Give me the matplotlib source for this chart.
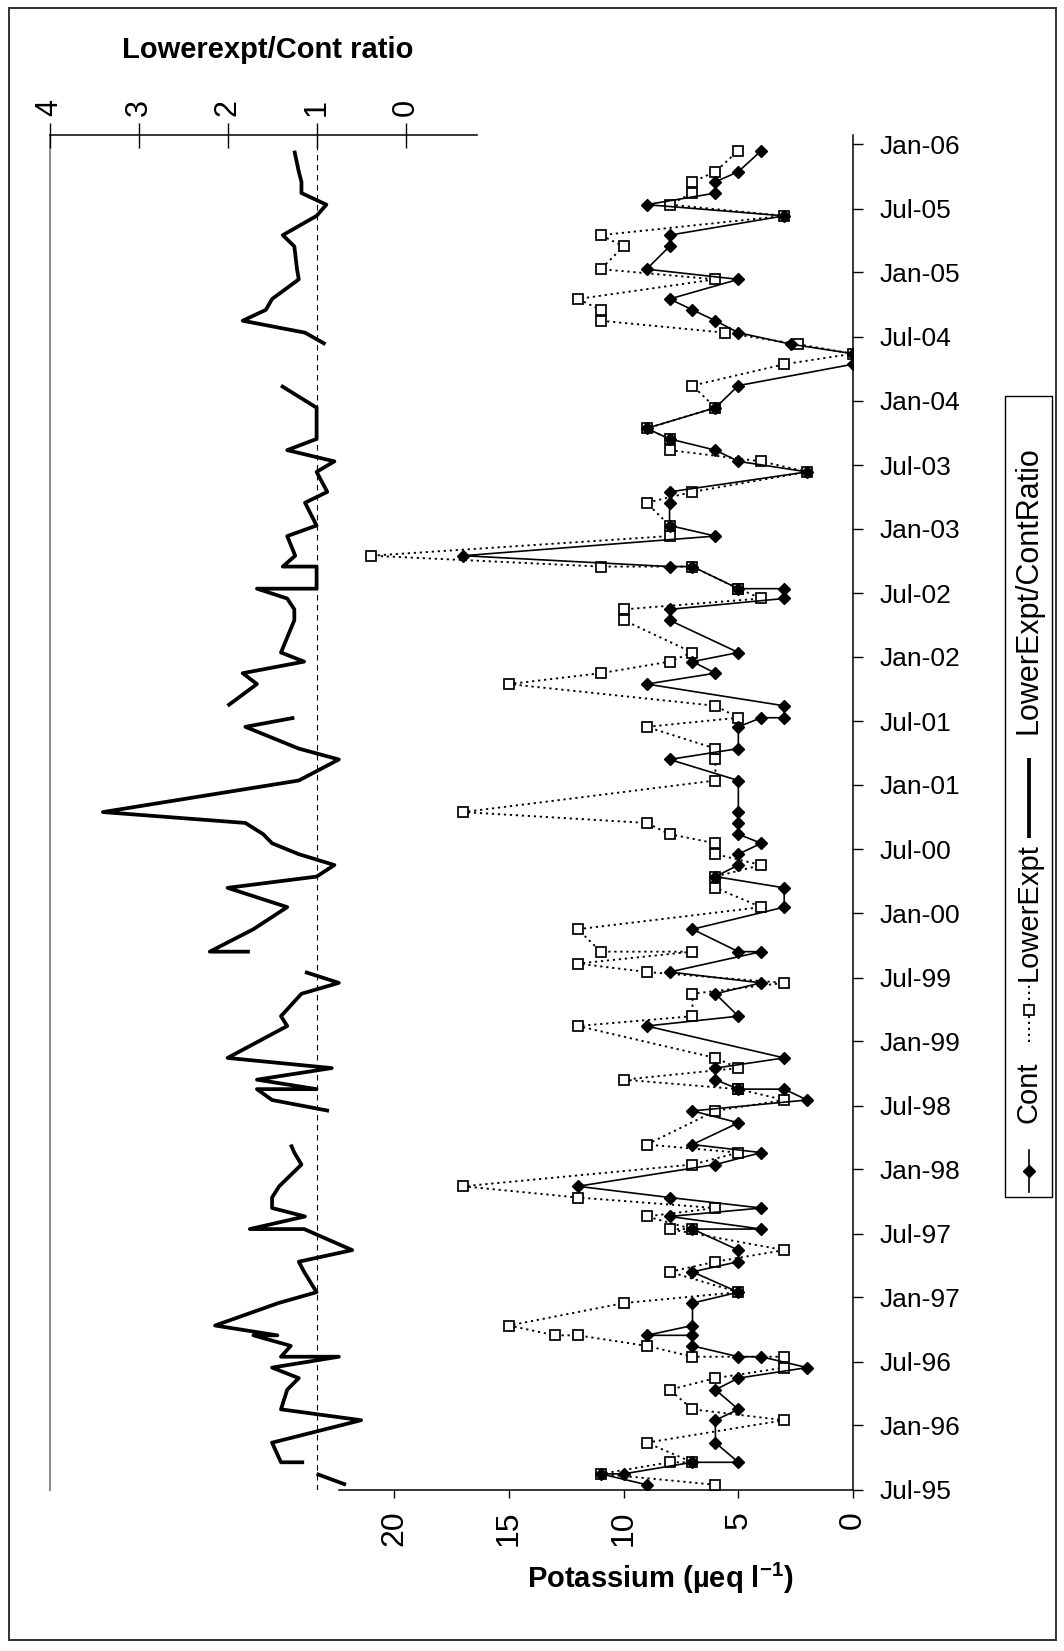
import matplotlib
matplotlib.use("Agg")
import matplotlib.pyplot as plt
from matplotlib.lines import Line2D
from matplotlib.patches import Rectangle
import numpy as np
from datetime import datetime

# ---------------- data ----------------
sample_dates = [
    "1995-07-16", "1995-08-16", "1995-08-16", "1995-09-18", "1995-09-18", "1995-11-13",
    "1996-01-16", "1996-02-16", "1996-04-12", "1996-05-15", "1996-06-14", "1996-07-15",
    "1996-07-15", "1996-08-15", "1996-09-14", "1996-09-14", "1996-10-12", "1996-12-15",
    "1997-01-15", "1997-03-14", "1997-04-12", "1997-05-15", "1997-07-14", "1997-07-14",
    "1997-08-19", "1997-09-12", "1997-10-12", "1997-11-13", "1998-01-14", "1998-02-17",
    "1998-03-12", "1998-05-13", "1998-06-16", "1998-07-17", "1998-08-17", "1998-08-17",
    "1998-09-13", "1998-10-16", "1998-11-14", "1999-02-13", "1999-03-13", "1999-05-16",
    "1999-06-16", "1999-07-17", "1999-08-10", "1999-09-13", "1999-09-13", "1999-11-16",
    "2000-01-18", "2000-03-13", "2000-04-14", "2000-05-17", "2000-06-17", "2000-07-18",
    "2000-08-13", "2000-09-14", "2000-10-15", "2001-01-13", "2001-03-14", "2001-04-14",
    "2001-06-15", "2001-07-11", "2001-07-11", "2001-08-14", "2001-10-15", "2001-11-15",
    "2001-12-18", "2002-01-13", "2002-04-15", "2002-05-16", "2002-06-16", "2002-07-14",
    "2002-07-14", "2002-09-15", "2002-09-15", "2002-10-16", "2002-12-11", "2003-01-10",
    "2003-03-16", "2003-04-16", "2003-06-12", "2003-07-12", "2003-08-13", "2003-09-14",
    "2003-10-14", "2003-12-12", "2004-02-13", "2004-04-14", "2004-05-14", "2004-06-10",
    "2004-07-13", "2004-08-16", "2004-09-16", "2004-10-17", "2004-12-12", "2005-01-10",
    "2005-03-16", "2005-04-17", "2005-06-11", "2005-07-13", "2005-08-15", "2005-09-16",
    "2005-10-15", "2005-12-14",
]

cont = [
    9, 11, 10, 7, 5, 6,
    6, 5, 6, 5, 2, 4,
    5, 7, 7, 9, 7, 7,
    5, 7, 5, 5, 7, 4,
    8, 4, 8, 12, 6, 4,
    7, 5, 7, 2, 3, 5,
    6, 6, 3, 9, 5, 6,
    4, 8, None, 4, 5, 7,
    3, 3, 6, 5, 5, 4,
    5, 5, 5, 5, 8, 5,
    5, 4, 3, 3, 9, 6,
    7, 5, 8, 8, 3, 3,
    5, 7, 8, 17, 6, 8,
    8, 8, 2, 5, 6, 8,
    9, 6, 5, 0, 0, 2.7,
    5, 6, 7, 8, 5, 9,
    8, 8, 3, 9, 6, 6,
    5, 4,
]

lower = [
    6, 11, None, 8, 7, 9,
    3, 7, 8, 6, 3, 3,
    7, 9, 12, 13, 15, 10,
    5, 8, 6, 3, 8, 7,
    9, 6, 12, 17, 7, 5,
    9, None, 6, 3, 5, 5,
    10, 5, 6, 12, 7, 7,
    3, 9, 12, 7, 11, 12,
    4, 6, 6, 4, 6, 6,
    8, 9, 17, 6, 6, 6,
    9, 5, None, 6, 15, 11,
    8, 7, 10, 10, 4, 5,
    5, 7, 11, 21, 8, 8,
    9, 7, 2, 4, 8, 8,
    9, 6, 7, 3, 0, 2.4,
    5.6, 11, 11, 12, 6, 11,
    10, 11, 3, 8, 7, 7,
    6, 5,
]

ratio = [
    0.67, 1.0, None, 1.14, 1.4, 1.5,
    0.5, 1.4, 1.33, 1.2, 1.5, 0.75,
    1.4, 1.29, 1.71, 1.44, 2.14, 1.43,
    1.0, 1.14, 1.2, 0.6, 1.14, 1.75,
    1.13, 1.5, 1.5, 1.42, 1.17, 1.25,
    1.29, None, 0.86, 1.5, 1.67, 1.0,
    1.67, 0.83, 2.0, 1.33, 1.4, 1.17,
    0.75, 1.13, None, 1.75, 2.2, 1.71,
    1.33, 2.0, 1.0, 0.8, 1.2, 1.5,
    1.6, 1.8, 3.4, 1.2, 0.75, 1.2,
    1.8, 1.25, None, 2.0, 1.67, 1.83,
    1.14, 1.4, 1.25, 1.25, 1.33, 1.67,
    1.0, 1.0, 1.38, 1.24, 1.33, 1.0,
    1.13, 0.88, 1.0, 0.8, 1.33, 1.0,
    1.0, 1.0, 1.4, None, None, 0.9,
    1.13, 1.83, 1.57, 1.5, 1.2, 1.22,
    1.25, 1.38, 1.0, 0.89, 1.17, 1.17,
    1.2, 1.25,
]

time_ticks = [
    "1995-07-01", "1996-01-01", "1996-07-01", "1997-01-01", "1997-07-01", "1998-01-01",
    "1998-07-01", "1999-01-01", "1999-07-01", "2000-01-01", "2000-07-01", "2001-01-01",
    "2001-07-01", "2002-01-01", "2002-07-01", "2003-01-01", "2003-07-01", "2004-01-01",
    "2004-07-01", "2005-01-01", "2005-07-01", "2006-01-01",
]
time_tick_labels = [
    "Jul-95", "Jan-96", "Jul-96", "Jan-97", "Jul-97", "Jan-98", "Jul-98", "Jan-99",
    "Jul-99", "Jan-00", "Jul-00", "Jan-01", "Jul-01", "Jan-02", "Jul-02", "Jan-03",
    "Jul-03", "Jan-04", "Jul-04", "Jan-05", "Jul-05", "Jan-06",
]
potassium_ticks = [0, 5, 10, 15, 20]
ratio_ticks = [0, 1, 2, 3, 4]

# ---------------- style ----------------
plt.rcParams['font.family'] = ['Liberation Sans', 'DejaVu Sans']
plt.rcParams['mathtext.fontset'] = 'custom'
plt.rcParams['mathtext.rm'] = 'Liberation Sans:bold'
plt.rcParams['mathtext.default'] = 'rm'

W, H = 1064, 1651
fig = plt.figure(figsize=(W / 100, H / 100), dpi=100)


def fx(px):
    return px / W


def fy(py):
    return 1 - py / H


L, R, T, B = 49.5, 853, 134.5, 1490
ax = fig.add_axes([fx(L), fy(B), (R - L) / W, (B - T) / H])

to_dt = lambda s: datetime.strptime(s, "%Y-%m-%d")
dates = [to_dt(s) for s in sample_dates]

lw_d = [d for d, v in zip(dates, lower) if v is not None]
lw_v = [v for v in lower if v is not None]
ct_d = [d for d, v in zip(dates, cont) if v is not None]
ct_v = [v for v in cont if v is not None]

dotted = (0, (1.2, 2.0))
ax.plot(lw_v, lw_d, color='k', lw=1.35, linestyle=dotted,
        marker='s', ms=6.8, mfc='white', mec='k', mew=1.25, zorder=3)
ax.plot(ct_v, ct_d, color='k', lw=1.2, marker='D', ms=6.5,
        mfc='k', mec='k', zorder=4)

ax.set_xlim(35.04, 0)
ax.set_ylim(datetime(1995, 7, 1), datetime(2006, 1, 29))

ax.set_yticks([to_dt(s) for s in time_ticks])
ax.set_yticklabels(time_tick_labels, fontsize=19)
ax.yaxis.set_ticks_position('right')
ax.tick_params(axis='y', direction='out', length=7, width=1, pad=12,
               right=True, left=False, labelright=True, labelleft=False)

ax.set_xticks(potassium_ticks)
ax.set_xticklabels([str(v) for v in potassium_ticks], rotation=90, fontsize=23)
ax.tick_params(axis='x', direction='out', length=6, width=1, pad=9)

ax.spines['top'].set_visible(False)
ax.spines['left'].set_color('#8a8a8a')
ax.spines['left'].set_linewidth(1.4)
ax.spines['right'].set_linewidth(1.1)
ax.spines['bottom'].set_linewidth(1.1)
ax.spines['bottom'].set_bounds(0, 22.4)

# ratio axis on top
ax2 = ax.twiny()
ax2.set_xlim(4, -5.025)
ratio_arr = np.array([np.nan if v is None else v for v in ratio], dtype=float)
ax2.plot(ratio_arr, dates, color='k', lw=2.7, solid_joinstyle='round',
         solid_capstyle='butt', zorder=3)
ax2.axvline(1, color='k', lw=0.8, dashes=(5, 4), zorder=2)
ax2.set_xticks(ratio_ticks)
ax2.set_xticklabels([str(v) for v in ratio_ticks], rotation=90, fontsize=22)
ax2.tick_params(axis='x', direction='inout', length=18, width=1, pad=4,
                top=True, bottom=False, labeltop=True, labelbottom=False)
for s in ['left', 'right', 'bottom']:
    ax2.spines[s].set_visible(False)
ax2.spines['top'].set_bounds(-0.8, 4)
ax2.spines['top'].set_linewidth(1.1)

# titles
fig.text(fx(268), fy(50), "Lowerexpt/Cont ratio", fontsize=21, fontweight='bold',
         ha='center', va='center')
fig.text(fx(660), fy(1578), r"Potassium (µeq l$^{-1}$)", fontsize=21,
         fontweight='bold', ha='center', va='center')

# outer border
fig.add_artist(Rectangle((fx(8.5), fy(1640)), (1056 - 8.5) / W, (1640 - 8.5) / H,
                         transform=fig.transFigure, fill=False, ec='#303030', lw=1.4))

# legend (rotated, drawn by hand)
lx = 1029
fig.add_artist(Rectangle((fx(1005), fy(1197)), 47 / W, (1197 - 396) / H,
                         transform=fig.transFigure, fill=False, ec='k', lw=1.0))
fig.add_artist(Line2D([fx(lx), fx(lx)], [fy(1192), fy(1150)], transform=fig.transFigure,
                      color='k', lw=1.2))
fig.add_artist(Line2D([fx(lx)], [fy(1171)], transform=fig.transFigure,
                      marker='D', ms=6.5, mfc='k', mec='k', color='k'))
fig.text(fx(lx), fy(1092), "Cont", rotation=90, fontsize=21, ha='center', va='center')
fig.add_artist(Line2D([fx(lx), fx(lx)], [fy(1042), fy(977)], transform=fig.transFigure,
                      color='k', lw=1.35, linestyle=dotted))
fig.add_artist(Line2D([fx(lx)], [fy(1010)], transform=fig.transFigure,
                      marker='s', ms=6.8, mfc='white', mec='k', mew=1.25, color='k'))
fig.text(fx(lx), fy(912), "LowerExpt", rotation=90, fontsize=21, ha='center', va='center')
fig.add_artist(Line2D([fx(lx), fx(lx)], [fy(838), fy(758)], transform=fig.transFigure,
                      color='k', lw=2.7, solid_capstyle='butt'))
fig.text(fx(lx), fy(590), "LowerExpt/ContRatio", rotation=90, fontsize=22,
         ha='center', va='center')

fig.savefig("out.png", dpi=100)
